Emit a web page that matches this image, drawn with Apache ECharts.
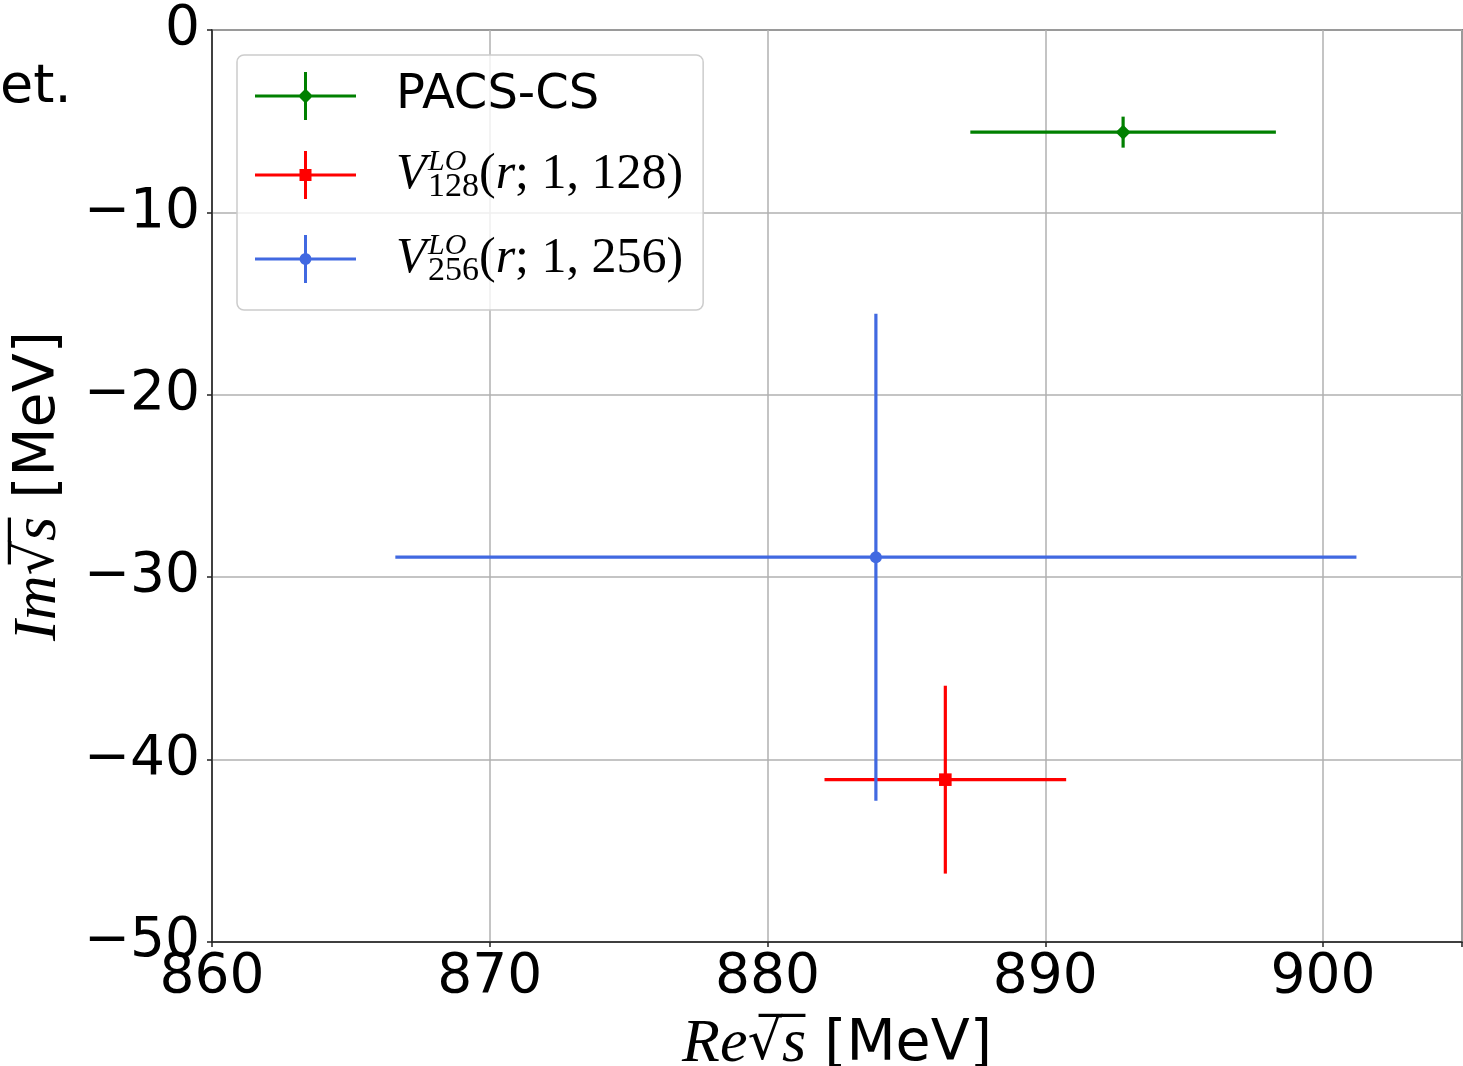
<!DOCTYPE html>
<html>
<head>
<meta charset="utf-8">
<script src="https://cdn.jsdelivr.net/npm/echarts@6/dist/echarts.min.js"></script>
<style>
html,body{margin:0;padding:0;background:#fff;}
#chart{width:1463px;height:1066px;}
</style>
</head>
<body>
<div id="chart"></div>
<script>
// ---- data ----
const seriesNames = ['PACS-CS', 'V128', 'V256'];
const seriesColors = ['#008000', '#ff0000', '#4169e1'];
const markerShapes = ['diamond', 'square', 'circle'];
const reValues = [892.8, 886.4, 883.9];
const imValues = [-5.6, -41.1, -28.9];
const reErrors = [5.5, 4.35, 17.3];
const imErrors = [0.85, 5.15, 13.35];
const xTicks = [860, 870, 880, 890, 900];
const yTicks = [-50, -40, -30, -20, -10, 0];

const SANS = 'DejaVu Sans';
const SERIF = 'Liberation Serif';

function fmtTick(v) {
  return v < 0 ? '\u2212' + Math.abs(v) : String(v);
}

// legend icons: error-bar cross with marker; extra zero-area point widens the box for text gap
function iconPath(shape) {
  let p = 'path://M0,22.5L101,22.5L101,25.5L0,25.5Z M49,0L52,0L52,48L49,48Z ';
  if (shape === 'diamond') p += 'M50.5,16.5L58,24L50.5,31.5L43,24Z ';
  else if (shape === 'square') p += 'M44.5,18L56.5,18L56.5,30L44.5,30Z ';
  else p += 'M56.5,24A6,6 0 1 1 44.5,24A6,6 0 1 1 56.5,24Z ';
  p += 'M136,24L136,24.01L136,24Z';
  return p;
}

function renderErr(params, api) {
  const x = api.value(0), y = api.value(1), xe = api.value(2), ye = api.value(3);
  const c = api.coord([x, y]);
  const l = api.coord([x - xe, y]), r = api.coord([x + xe, y]);
  const t = api.coord([x, y + ye]), b = api.coord([x, y - ye]);
  const color = seriesColors[params.seriesIndex];
  const shape = markerShapes[params.seriesIndex];
  const lw = 3.2;
  const children = [
    {type: 'line', shape: {x1: l[0], y1: l[1], x2: r[0], y2: r[1]}, style: {stroke: color, lineWidth: lw}},
    {type: 'line', shape: {x1: t[0], y1: t[1], x2: b[0], y2: b[1]}, style: {stroke: color, lineWidth: lw}}
  ];
  if (shape === 'diamond') {
    children.push({type: 'polygon', shape: {points: [[c[0], c[1] - 7.5], [c[0] + 7.5, c[1]], [c[0], c[1] + 7.5], [c[0] - 7.5, c[1]]]}, style: {fill: color}});
  } else if (shape === 'square') {
    children.push({type: 'rect', shape: {x: c[0] - 6.3, y: c[1] - 6.3, width: 12.6, height: 12.6}, style: {fill: color}});
  } else {
    children.push({type: 'circle', shape: {cx: c[0], cy: c[1], r: 6}, style: {fill: color}});
  }
  return {type: 'group', children: children};
}

const series = seriesNames.map(function (name, i) {
  return {
    name: name,
    type: 'custom',
    renderItem: renderErr,
    itemStyle: {color: seriesColors[i]},
    encode: {x: 0, y: 1},
    data: [[reValues[i], imValues[i], reErrors[i], imErrors[i]]],
    z: 3
  };
});

const nameRich = {
  mi: {fontFamily: SERIF, fontStyle: 'italic', fontSize: 62, color: '#000'},
  m: {fontFamily: 'DejaVu Serif', fontSize: 54, color: '#000'},
  ol: {fontFamily: SANS, fontSize: 46, width: 0, color: '#000', verticalAlign: 'top', lineHeight: 6},
  t: {fontFamily: SANS, fontSize: 57, color: '#000'}
};

const chart = echarts.init(document.getElementById('chart'), null, {renderer: 'canvas'});
chart.setOption({
  animation: false,
  backgroundColor: '#fff',
  grid: {left: 212, top: 30, right: 1, bottom: 124, containLabel: false, outerBoundsMode: 'none',
    show: true, borderColor: '#222', borderWidth: 1.5, backgroundColor: 'transparent'},
  xAxis: {
    type: 'value', min: 860, max: 905, interval: 10,
    axisLine: {show: true, onZero: false, lineStyle: {color: '#222', width: 1.5}},
    axisTick: {show: true, length: 5, lineStyle: {color: '#222', width: 1.5}},
    splitLine: {show: true, lineStyle: {color: '#b0b0b0', width: 1.5}},
    axisLabel: {
      margin: 8, color: '#000', fontFamily: SANS, fontSize: 55,
      formatter: function (v) { return xTicks.indexOf(v) >= 0 ? fmtTick(v) : ''; }
    },
    name: '{mi|Re}{m|\u221a}{ol|\u203e\u203e}{mi|s}{t| [MeV]}',
    nameLocation: 'middle', nameGap: 72,
    nameTextStyle: {color: '#000', rich: nameRich}
  },
  yAxis: {
    type: 'value', min: -50, max: 0, interval: 10,
    axisLine: {show: true, onZero: false, lineStyle: {color: '#222', width: 1.5}},
    axisTick: {show: true, length: 5, lineStyle: {color: '#222', width: 1.5}},
    splitLine: {show: true, lineStyle: {color: '#b0b0b0', width: 1.5}},
    axisLabel: {
      margin: 12, color: '#000', fontFamily: SANS, fontSize: 55,
      formatter: function (v) { return yTicks.indexOf(v) >= 0 ? fmtTick(v) : ''; }
    },
    name: '{mi|Im}{m|\u221a}{ol|\u203e\u203e}{mi|s}{t| [MeV]}',
    nameLocation: 'middle', nameGap: 142, nameRotate: 90,
    nameTextStyle: {color: '#000', rich: nameRich}
  },
  legend: {
    left: 237, top: 55, orient: 'vertical',
    selectedMode: false,
    itemWidth: 136, itemHeight: 48, itemGap: 26,
    padding: [17, 20, 22, 18],
    backgroundColor: 'rgba(255,255,255,0.8)',
    borderColor: '#cccccc', borderWidth: 1.5, borderRadius: 7,
    itemStyle: {borderWidth: 0},
    data: seriesNames.map(function (n, i) { return {name: n, icon: iconPath(markerShapes[i])}; }),
    formatter: function (name) {
      if (name === 'PACS-CS') return '{s|PACS-CS}';
      const n = name.slice(1);
      return '{v|V}{sup|LO}{sub|' + n + '}{m|(}{mi|r}{m|; 1, ' + n + ')}';
    },
    textStyle: {
      color: '#000',
      rich: {
        s: {fontFamily: SANS, fontSize: 48, lineHeight: 56, color: '#000'},
        v: {fontFamily: SERIF, fontStyle: 'italic', fontSize: 50, lineHeight: 56, width: 25, color: '#000'},
        sup: {fontFamily: SERIF, fontStyle: 'italic', fontSize: 30, lineHeight: 22, width: 0, verticalAlign: 'top', padding: [0, 0, 0, 7], color: '#000'},
        sub: {fontFamily: SERIF, fontSize: 34, lineHeight: 56, padding: [24, 0, 0, 0], color: '#000'},
        m: {fontFamily: SERIF, fontSize: 50, lineHeight: 56, color: '#000'},
        mi: {fontFamily: SERIF, fontStyle: 'italic', fontSize: 50, lineHeight: 56, color: '#000'}
      }
    }
  },
  graphic: [
    {type: 'text', left: 0, top: 61, style: {text: 'et.', font: '54px "DejaVu Sans"', fill: '#000'}}
  ],
  series: series
});
</script>
</body>
</html>
